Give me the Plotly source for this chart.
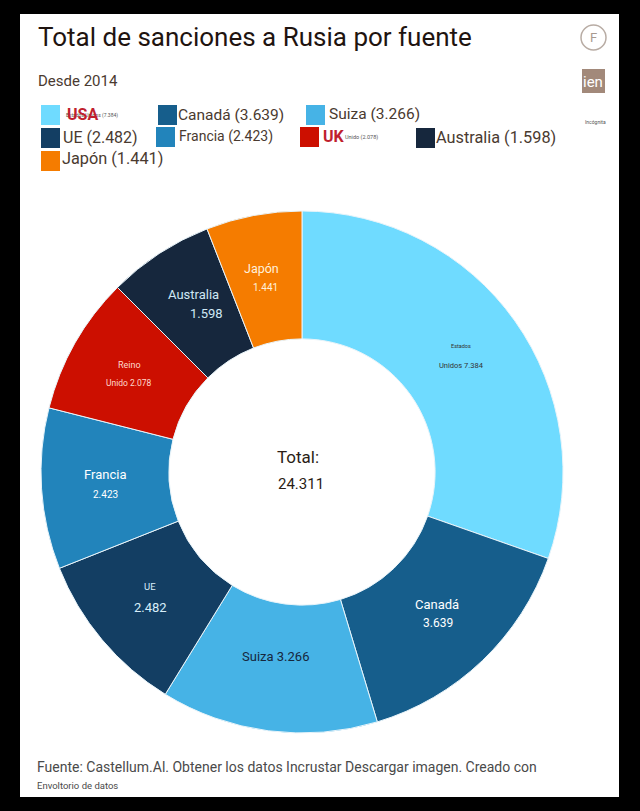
import plotly.graph_objects as go

W, H = 640, 811

categories = ["Estados Unidos", "Canadá", "Suiza", "UE", "Francia", "Reino Unido", "Australia", "Japón"]
values = [7384, 3639, 3266, 2482, 2423, 2078, 1598, 1441]
value_labels = ["7.384", "3.639", "3.266", "2.482", "2.423", "2.078", "1.598", "1.441"]
colors = ["#6FDBFF", "#165E8C", "#46B3E6", "#133E63", "#2284BB", "#CC0F00", "#16273D", "#F57C00"]
total_label = "24.311"

FONT = "Roboto"
DARK = "#3a2a22"


def fx(px):
    return px / W


def fy(py):
    return 1 - py / H


def note(x, y, text, size, color=DARK, anchor="center"):
    return dict(
        x=fx(x), y=fy(y), xref="paper", yref="paper", text=text, showarrow=False,
        xanchor=anchor, yanchor="middle", font=dict(family=FONT, size=size, color=color),
    )


def box(x0, y0, x1, y1, color, layer="above"):
    return dict(
        type="rect", xref="paper", yref="paper", x0=fx(x0), x1=fx(x1), y0=fy(y1), y1=fy(y0),
        fillcolor=color, line=dict(width=0), layer=layer,
    )


# legend swatches and labels, in the order of the slices
swatches = [(41, 105), (158, 105), (306, 105), (41, 128), (156, 127), (300, 127), (416, 128), (41, 151)]
legend_text_x = [0, 176, 327, 61, 177, 0, 434, 60]
legend_text_y = [0, 115, 114, 137, 136, 0, 138, 158]
legend_size = [0, 15.5, 15.5, 16, 14, 0, 16.3, 16.3]

annotations = [
    note(36, 37, "Total de sanciones a Rusia por fuente", 26, "#1f1410", "left"),
    note(36, 81, "Desde 2014", 15, "#4a3a30", "left"),
    note(275, 457, "Total:", 17, "#2a1d16", "left"),
    note(301, 484, total_label, 15, "#2a1d16"),
    note(35, 767, "Fuente: Castellum.Al. Obtener los datos Incrustar Descargar imagen. Creado con", 14, "#4a4a4a", "left"),
    note(35, 785, "Envoltorio de datos", 9.5, "#4a4a4a", "left"),
    note(595, 122, "Incógnita", 5, "#555555"),
    note(593, 38, "F", 13, "#a89a90"),
    note(593, 82, "ien", 15, "#ffffff"),
    # small text under the red USA / UK tags
    note(64, 115, f"{categories[0]} ({value_labels[0]})", 5, "#555555", "left"),
    note(65, 114, "<b>USA</b>", 16, "#c01f2e", "left"),
    note(343, 137, f"Unido ({value_labels[5]})", 5.5, "#555555", "left"),
    note(321, 136, "<b>UK</b>", 16, "#c01f2e", "left"),
]

shapes = [
    box(20, 14, 619, 797, "#ffffff", "below"),
    dict(type="circle", xref="paper", yref="paper", x0=fx(581), x1=fx(606), y0=fy(50), y1=fy(25),
         line=dict(color="#b8aca4", width=1.5), fillcolor="#ffffff", layer="above"),
    box(582, 69, 605, 93, "#a2897a"),
]

for i, cat in enumerate(categories):
    x, y = swatches[i]
    shapes.append(box(x, y, x + 19, y + 20, colors[i]))
    if legend_size[i]:
        annotations.append(note(legend_text_x[i], legend_text_y[i], f"{cat} ({value_labels[i]})",
                                legend_size[i], "#4a3a30", "left"))

# slice labels
slice_lines = [
    ("Estados", "Unidos " + value_labels[0]),
    ("Canadá", value_labels[1]),
    ("Suiza " + value_labels[2], ""),
    ("UE", value_labels[3]),
    ("Francia", value_labels[4]),
    ("Reino", "Unido " + value_labels[5]),
    ("Australia", value_labels[6]),
    ("Japón", value_labels[7]),
]
label_pos = [
    ((461, 346), (461, 366)), ((437, 604), (438, 623)), ((275, 656), (0, 0)), ((150, 586), (150, 607)),
    ((105, 474), (105, 494)), ((129, 365), (129, 383)), ((193, 295), (206, 314)), ((261, 268), (265, 287)),
]
label_size = [(5.5, 7.5), (13, 12), (13, 0), (9.5, 13), (13, 10), (9, 8.5), (13, 13), (12.5, 10)]
label_color = ["#333333", "#ffffff", "#16273D", "#d8eefa", "#ffffff", "#ffd9cc", "#cfe8f5", "#fff1dc"]

for i, (first, second) in enumerate(slice_lines):
    annotations.append(note(*label_pos[i][0], first, label_size[i][0], label_color[i]))
    if second:
        annotations.append(note(*label_pos[i][1], second, label_size[i][1], label_color[i]))

fig = go.Figure(go.Pie(
    labels=categories, values=values, sort=False, direction="clockwise", rotation=0,
    hole=0.51, textinfo="none", showlegend=False,
    marker=dict(colors=colors, line=dict(color="#e8f4fa", width=1)),
    domain=dict(x=[fx(41), fx(563)], y=[fy(733), fy(211)]),
))

fig.update_layout(
    width=W, height=H, margin=dict(l=0, r=0, t=0, b=0),
    paper_bgcolor="#000000", plot_bgcolor="#000000",
    shapes=shapes, annotations=annotations,
)

fig.write_html("out.html", config=dict(displayModeBar=False), post_script="document.body.style.margin='0';")
